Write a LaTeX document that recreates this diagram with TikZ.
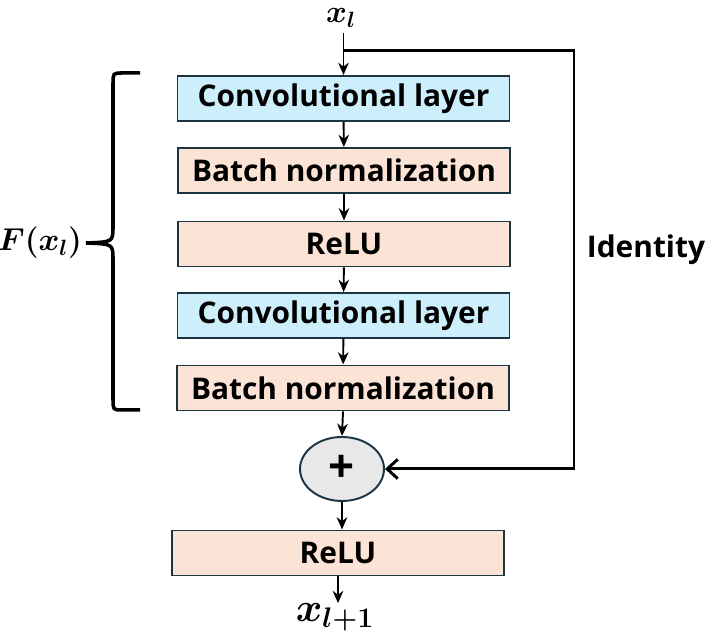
\documentclass[tikz,border=0pt]{standalone}
\usepackage{fix-cm}
\usepackage{bm}
\usepackage{fontspec}
\setmainfont{Open Sans}
\usetikzlibrary{arrows.meta,shapes.geometric}

\definecolor{convblue}{RGB}{205,238,251}
\definecolor{bnpeach}{RGB}{251,227,214}
\definecolor{edgecol}{RGB}{28,52,66}
\definecolor{sumgray}{RGB}{232,232,232}

\newcommand{\boxfont}{\fontsize{17}{20}\selectfont\bfseries}

\begin{document}
\begin{tikzpicture}[
    conv/.style={rectangle, draw=edgecol, fill=convblue, line width=1.1pt, minimum width=6.64cm, minimum height=0.9cm, text centered, font=\boxfont},
    bnorm/.style={rectangle, draw=edgecol, fill=bnpeach, line width=1.1pt, minimum width=6.64cm, minimum height=0.9cm, text centered, font=\boxfont},
    sum/.style={ellipse, draw=edgecol, fill=sumgray, line width=1.1pt, minimum width=1.68cm, minimum height=1.28cm, inner sep=0pt},
    flow/.style={-{Stealth[length=7pt,width=6pt]}, line width=1.1pt},
    skip/.style={-{Straight Barb[length=6pt,width=11pt]}, line width=1.7pt}
]

\useasboundingbox (0,0) rectangle (14.16,12.88);

% Input
\node[inner sep=0pt, anchor=base] (xin) at (6.82,12.42) {\fontsize{18}{20}\selectfont$\bm{x_l}$};

% Residual branch F(x_l)
\node[conv]  (conv1) at (6.87,10.91) {Convolutional layer};
\node[bnorm] (bn1)   at (6.88,9.47)  {Batch normalization};
\node[bnorm] (relu1) at (6.88,8.00)  {ReLU};
\node[conv]  (conv2) at (6.87,6.57)  {Convolutional layer};
\node[bnorm] (bn2)   at (6.86,5.12)  {Batch normalization};

% Addition and output
\node[sum] (plus) at (6.84,3.50) {\fontsize{26}{26}\selectfont\bfseries +};
\node[bnorm] (relu2) at (6.76,1.82) {ReLU};
\node[inner sep=0pt, anchor=base, font=\fontsize{23}{25}\selectfont] (xout) at (6.7,0.45) {$\bm{x_{l+1}}$};

% Main path
\draw[flow] ([yshift=-3pt]xin.south -| conv1.north) -- (conv1.north);
\draw[flow] (conv1) -- (bn1);
\draw[flow] (bn1) -- (relu1);
\draw[flow] (relu1) -- (conv2);
\draw[flow] (conv2) -- (bn2);
\draw[flow] (bn2.south) -- (plus.north);
\draw[flow] (plus.south) -- (plus.south |- relu2.north);
\draw[flow] (relu2.south) -- (relu2.south |- xout.north);

% Identity shortcut
\coordinate (split) at (6.87,11.86);
\coordinate (corner) at (11.48,11.86);
\draw[skip] (split) -- (corner) |- (plus.east);
\node[font=\boxfont] (ident) at (12.92,7.88) {Identity};

% Brace
\draw[line width=2pt]
    (2.8,11.42) -- (2.45,11.42) .. controls (2.26,11.42) .. (2.26,11.2)
    -- (2.26,8.35) .. controls (2.26,8.04) .. (1.72,8.02)
    .. controls (2.26,8.0) .. (2.26,7.69)
    -- (2.26,4.9) .. controls (2.26,4.68) .. (2.45,4.68) -- (2.8,4.68);
\node (fx) at (0.8,8.02) {\fontsize{18}{21}\selectfont$\bm{F(x_l)}$};

\end{tikzpicture}
\end{document}
